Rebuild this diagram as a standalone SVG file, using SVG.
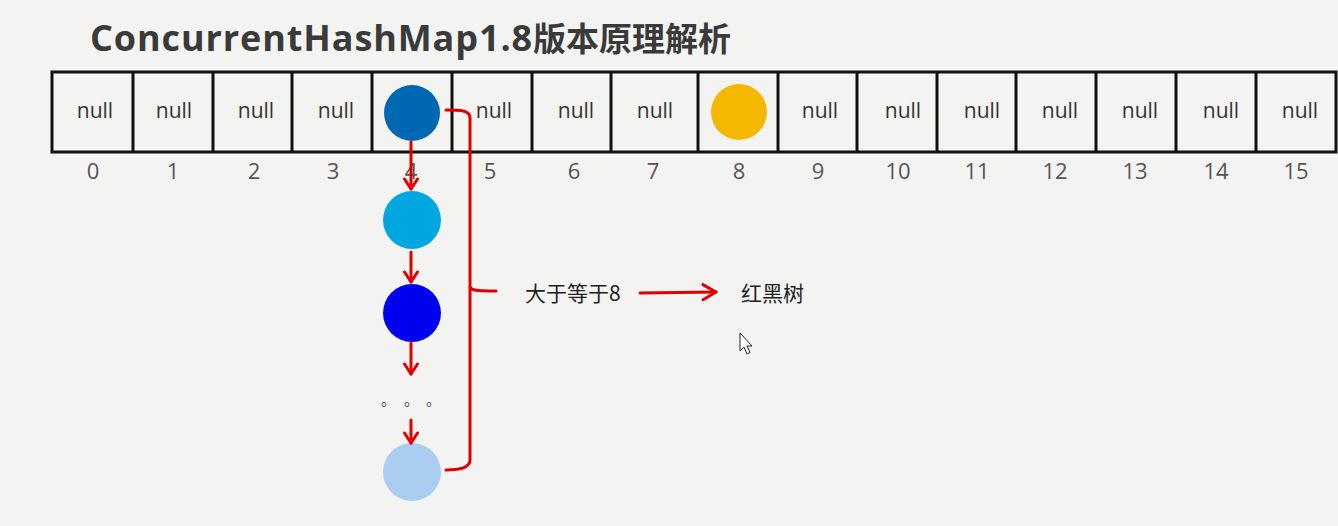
<svg xmlns="http://www.w3.org/2000/svg" width="1338" height="526" viewBox="0 0 1338 526">
<defs>
<style>
.cell{fill:none;stroke:#111;stroke-width:3}
.null{font-family:"Open Sans","Liberation Sans",sans-serif;font-size:21px;fill:#333;text-anchor:middle}
.idx{font-family:"Open Sans","Liberation Sans",sans-serif;font-size:22px;fill:#555;text-anchor:middle}
.lbl{font-family:"Noto Sans CJK SC","Noto Sans",sans-serif;font-size:21px;fill:#222}
.dot{font-family:"Noto Sans CJK SC",sans-serif;font-size:15px;fill:#444}
.red{fill:none;stroke:#e00000;stroke-width:3;stroke-linecap:round;stroke-linejoin:round}
</style>
<marker id="ah" viewBox="0 0 16 16" refX="12" refY="8" markerWidth="16" markerHeight="16" markerUnits="userSpaceOnUse" orient="auto">
<path d="M2,1.5 L12,8 L2,14.5" fill="none" stroke="#e00000" stroke-width="3" stroke-linecap="round" stroke-linejoin="round"/>
</marker>
<marker id="ah2" viewBox="0 0 18 18" refX="15" refY="9" markerWidth="18" markerHeight="18" markerUnits="userSpaceOnUse" orient="auto">
<path d="M2,1.5 L15,9 L2,16.5" fill="none" stroke="#e00000" stroke-width="3" stroke-linecap="round" stroke-linejoin="round"/>
</marker>
</defs>
<rect width="1338" height="526" fill="#f3f4f2"/>
<text x="90" y="51" font-family="'Open Sans','Noto Sans CJK SC',sans-serif" font-weight="bold" fill="#3a3a3a"><tspan font-size="36" letter-spacing="0.9">ConcurrentHashMap1.8</tspan><tspan font-size="33" letter-spacing="0">版本原理解析</tspan></text>
<g id="array">
<rect class="cell" x="52" y="72" width="1284" height="80"/>
<path class="cell" d="M133,72V152M213,72V152M292,72V152M372,72V152M452,72V152M532,72V152M611,72V152M698,72V152M778,72V152M857,72V152M937,72V152M1016,72V152M1096,72V152M1176,72V152M1256,72V152"/>
<text class="null" x="95" y="118">null</text>
<text class="null" x="174" y="118">null</text>
<text class="null" x="256" y="118">null</text>
<text class="null" x="336" y="118">null</text>
<text class="null" x="494" y="118">null</text>
<text class="null" x="576" y="118">null</text>
<text class="null" x="655" y="118">null</text>
<text class="null" x="820" y="118">null</text>
<text class="null" x="903" y="118">null</text>
<text class="null" x="982" y="118">null</text>
<text class="null" x="1060" y="118">null</text>
<text class="null" x="1140" y="118">null</text>
<text class="null" x="1221" y="118">null</text>
<text class="null" x="1300" y="118">null</text>
</g>
<g id="indices">
<text class="idx" x="93" y="179">0</text>
<text class="idx" x="173" y="179">1</text>
<text class="idx" x="254" y="179">2</text>
<text class="idx" x="333" y="179">3</text>
<text class="idx" x="411" y="179">4</text>
<text class="idx" x="490" y="179">5</text>
<text class="idx" x="574" y="179">6</text>
<text class="idx" x="653" y="179">7</text>
<text class="idx" x="739" y="179">8</text>
<text class="idx" x="818" y="179">9</text>
<text class="idx" x="898" y="179">10</text>
<text class="idx" x="977" y="179">11</text>
<text class="idx" x="1055" y="179">12</text>
<text class="idx" x="1135" y="179">13</text>
<text class="idx" x="1216" y="179">14</text>
<text class="idx" x="1296" y="179">15</text>
</g>
<g id="node-head"><ellipse cx="412" cy="113" rx="28" ry="28" fill="#0068b3"/></g>
<g id="node-8"><ellipse cx="739" cy="112" rx="28" ry="28" fill="#f4b800"/></g>
<g id="node-2"><circle cx="412" cy="220" r="29" fill="#00a6e0"/></g>
<g id="node-3"><circle cx="412" cy="313" r="29" fill="#0000ee"/></g>
<g id="dots"><text class="dot" x="381" y="405">。</text><text class="dot" x="404" y="405">。</text><text class="dot" x="426" y="405">。</text></g>
<g id="node-last"><circle cx="412" cy="472" r="29" fill="#aacdf2"/></g>
<g id="connectors">
<path class="red" d="M411,142V189" marker-end="url(#ah)"/>
<path class="red" d="M411,252V282" marker-end="url(#ah)"/>
<path class="red" d="M411,343V374" marker-end="url(#ah)"/>
<path class="red" d="M411,420V443" marker-end="url(#ah)"/>
<path class="red" d="M446,110C460,110 470,110 470,118V286C470,290 474,291 496,291M470,286V460C470,468 460,470 446,470"/>
<path class="red" d="M640,293L716,292" marker-end="url(#ah2)"/>
</g>
<g id="label-ge8"><text class="lbl" x="525" y="301">大于等于8</text></g>
<g id="label-rbt"><text class="lbl" x="741" y="301">红黑树</text></g>
<g id="cursor"><path d="M740,333V351L744,347L747,354L750,352.5L747,346L752,346Z" fill="#fff" stroke="#222" stroke-width="1"/></g>
</svg>
